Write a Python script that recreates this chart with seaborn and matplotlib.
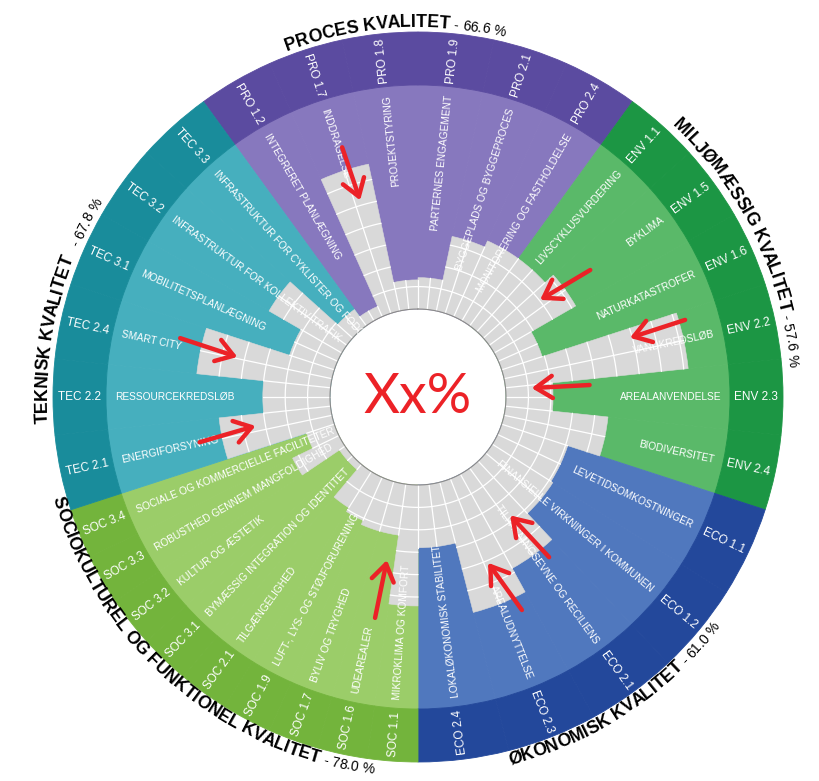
import numpy as np
import pandas as pd
import matplotlib
matplotlib.use("Agg")
import matplotlib.pyplot as plt
from matplotlib import font_manager
import seaborn as sns

sns.set_theme(style="white")
plt.rcParams["font.family"] = ["Liberation Sans", "DejaVu Sans"]

installed = {f.name for f in font_manager.fontManager.ttflist}
HAS_NARROW = "Liberation Sans Narrow" in installed
NARROW = "Liberation Sans Narrow" if HAS_NARROW else "Liberation Sans"

# ---- data ---------------------------------------------------------------
group_titles = ["PROCES KVALITET", "MILJØMÆSSIG KVALITET", "ØKONOMISK KVALITET",
                "SOCIOKULTUREL OG FUNKTIONEL KVALITET", "TEKNISK KVALITET"]
group_scores = [" - 66.6 %", " - 57.6 %", " - 61.0 %", " - 78.0 %", "   - 67.8 %"]

pro_codes = ["PRO 1.2", "PRO 1.7", "PRO 1.8", "PRO 1.9", "PRO 2.1", "PRO 2.4"]
pro_names = ["INTEGRERET PLANLÆGNING", "INDDRAGELSE", "PROJEKTSTYRING",
             "PARTERNES ENGAGEMENT", "BYGGEPLADS OG BYGGEPROCES", "MONITORERING OG FASTHOLDELSE"]
pro_values = [0.5, 6.7, 1.3, 1.4, 3.4, 3.7]

env_codes = ["ENV 1.1", "ENV 1.5", "ENV 1.6", "ENV 2.2", "ENV 2.3", "ENV 2.4"]
env_names = ["LIVSCYKLUSVURDERING", "BYKLIMA", "NATURKATASTROFER",
             "VANDKREDSLØB", "AREALANVENDELSE", "BIODIVERSITET"]
env_values = [3.7, 4.2, 1.9, 8.2, 2.1, 4.6]

eco_codes = ["ECO 1.1", "ECO 1.2", "ECO 2.1", "ECO 2.3", "ECO 2.4"]
eco_names = ["LEVETIDSOMKOSTNINGER", "FINANSIELLE VIRKNINGER I KOMMUNEN",
             "TILPASNINGSEVNE OG RECILIENS", "AREALUDNYTTELSE", "LOKALØKONOMISK STABILITET"]
eco_values = [3.1, 3.2, 4.8, 6.0, 2.8]

soc_codes = ["SOC 1.1", "SOC 1.6", "SOC 1.7", "SOC 1.9", "SOC 2.1",
             "SOC 3.1", "SOC 3.2", "SOC 3.3", "SOC 3.4"]
soc_names = ["MIKROKLIMA OG KOMFORT", "UDEAREALER", "BYLIV OG TRYGHED",
             "LUFT-, LYS- OG STØJFORURENING", "TILGÆNGELIGHED",
             "BYMÆSSIG INTEGRATION OG IDENTITET", "KULTUR OG ÆSTETIK",
             "ROBUSTHED GENNEM MANGFOLDIGHED", "SOCIALE OG KOMMERCIELLE FACILITETER"]
soc_values = [5.4, 2.3, 2.3, 2.1, 1.9, 0.3, 0.3, 2.3, 1.3]

tec_codes = ["TEC 2.1", "TEC 2.2", "TEC 2.4", "TEC 3.1", "TEC 3.2", "TEC 3.3"]
tec_names = ["ENERGIFORSYNING", "RESSOURCEKREDSLØB", "SMART CITY", "MOBILITETSPLANLÆGNING",
             "INFRASTRUKTUR FOR KOLLEKTIV TRAFIK", "INFRASTRUKTUR FOR CYKLISTER OG FODGÆNGERE"]
tec_values = [5.0, 3.0, 6.0, 2.1, 3.75, 0.9]

# ---- style ----------------------------------------------------------------
dark_colors = ["#5b4ba0", "#1c9644", "#23489b", "#73b43c", "#198c9b"]
light_colors = ["#8778be", "#5ab969", "#5078be", "#9bcd69", "#46afbe"]
GRAY = "#d9d9d9"
RED = "#ec2227"

PX = 22.4             # pixels per ring
R0 = 88 / PX          # white hole
R_LIGHT = R0 + 10
R_DARK = 365 / PX
RMAX = 400 / PX

# title placement: start angle, baseline radius (px), clockwise
title_layout = [(-20.7, 370, True), (43.0, 372, True), (166.0, 379, False),
                (254.5, 379, False), (266.0, 371, True)]

# red arrows: (tail angle, tail radius px, head angle, head radius px)
arrows = [(-16.9, 261, -16.4, 205), (53.6, 214, 51.5, 156), (73.9, 278, 74.4, 220),
          (86.0, 172, 85.5, 114), (140.7, 207, 142.1, 150), (154.0, 237, 157.1, 180),
          (191.0, 225, 190.8, 166), (258.3, 223, 259.9, 165), (283.9, 245, 282.5, 185)]

groups = [(pro_codes, pro_names, pro_values), (env_codes, env_names, env_values),
          (eco_codes, eco_names, eco_values), (soc_codes, soc_names, soc_values),
          (tec_codes, tec_names, tec_values)]
rows = []
for g, (codes, names, values) in enumerate(groups):
    step = 72 / len(codes)
    for i in range(len(codes)):
        rows.append(dict(group=g, code=codes[i], name=names[i], value=values[i],
                         start=-36 + 72 * g + i * step, width=step))
df = pd.DataFrame(rows)
df["mid"] = df["start"] + df["width"] / 2

fig = plt.figure(figsize=(8.2, 7.81), dpi=100)
cx, cy = 418 / 820, (781 - 397) / 781
w, h = 800 / 820, 800 / 781
ax = fig.add_axes([cx - w / 2, cy - h / 2, w, h], projection="polar")
ax.set_theta_zero_location("N")
ax.set_theta_direction(-1)
ax.set_ylim(0, RMAX)
ax.axis("off")

th = np.deg2rad(df["mid"])
wd = np.deg2rad(df["width"])
light = [light_colors[g] for g in df["group"]]
dark = [dark_colors[g] for g in df["group"]]
ax.bar(th, R_LIGHT - R0, width=wd, bottom=R0, color=light, edgecolor=light, linewidth=0.6, zorder=1)
ax.bar(th, R_DARK - R_LIGHT, width=wd, bottom=R_LIGHT, color=dark, edgecolor=dark, linewidth=0.6, zorder=1)
ax.bar(th, df["value"], width=wd, bottom=R0, color=GRAY, edgecolor=GRAY, linewidth=0.4, zorder=2)

# white grid inside the grey bars
vals = df["value"].to_numpy()
for i, row in df.iterrows():
    a0, a1 = row["start"], row["start"] + row["width"]
    t = np.deg2rad(np.linspace(a0, a1, 30))
    for k in range(1, int(np.ceil(row["value"]))):
        ax.plot(t, np.full_like(t, R0 + k), color="white", lw=0.9, zorder=3)
    top = min(vals[i - 1], row["value"])
    ax.plot([np.deg2rad(a0)] * 2, [R0, R0 + top], color="white", lw=0.9, zorder=3)
    nsub = max(1, int(round(row["width"] / 7)))
    for s in range(1, nsub):
        a = np.deg2rad(a0 + s * row["width"] / nsub)
        ax.plot([a, a], [R0, R0 + row["value"]], color="white", lw=0.9, zorder=3)

circ = np.linspace(0, 2 * np.pi, 400)
ax.plot(circ, np.full_like(circ, R0), color="#8a8a8a", lw=0.8, zorder=3)


def rot_for(theta):
    return ((90 - theta + 75) % 180) - 75


name_size = 8 if HAS_NARROW else 7.3
code_size = 9 if HAS_NARROW else 8.5
for _, row in df.iterrows():
    rot = rot_for(row["mid"])
    outward = abs(((90 - row["mid"]) - rot) % 360) < 1
    ax.text(np.deg2rad(row["mid"]), R0 + 9.6, row["name"], rotation=rot, rotation_mode="anchor",
            ha="right" if outward else "left", va="center", color="white",
            fontsize=name_size, family=NARROW, zorder=4)
    ax.text(np.deg2rad(row["mid"]), 338 / PX, row["code"], rotation=rot, rotation_mode="anchor",
            ha="center", va="center", color="white", fontsize=code_size, family=NARROW, zorder=4)

# curved titles
renderer = fig.canvas.get_renderer()


def text_width(s, **kw):
    if not s:
        return 0.0
    t = fig.text(0, 0, s + "|", **kw)
    w1 = t.get_window_extent(renderer).width
    t.set_text("|")
    w2 = t.get_window_extent(renderer).width
    t.remove()
    return w1 - w2


title_kw = dict(fontsize=15 if HAS_NARROW else 12.8, family=NARROW, fontweight="bold", color="black")
score_kw = dict(fontsize=11.5 if HAS_NARROW else 10, family=NARROW, color="black")

for title, score, (start, rpx, clockwise) in zip(group_titles, group_scores, title_layout):
    pos = 0.0
    sign = 1 if clockwise else -1
    for text, kw in [(title, title_kw), (score, score_kw)]:
        for i, ch in enumerate(text):
            if ch == " ":
                continue
            c = pos + (text_width(text[:i], **kw) + text_width(text[:i + 1], **kw)) / 2
            theta = start + sign * np.rad2deg(c / rpx)
            rot = -theta if clockwise else 180 - theta
            ax.text(np.deg2rad(theta), rpx / PX, ch, rotation=rot, rotation_mode="anchor",
                    ha="center", va="baseline", zorder=5, **kw)
        pos += text_width(text, **kw)

for ta, tr, ha_, hr in arrows:
    ax.annotate("", xy=(np.deg2rad(ha_), hr / PX), xytext=(np.deg2rad(ta), tr / PX),
                arrowprops=dict(arrowstyle="->,head_length=0.6,head_width=0.4", mutation_scale=20,
                                color=RED, lw=3.2, shrinkA=0, shrinkB=0), zorder=6)

ax.text(0, 0, "Xx%", ha="center", va="center", color=RED, fontsize=40,
        family=["Lato", "DejaVu Sans"], fontweight="normal", zorder=6)

fig.savefig("out.png", dpi=100)
